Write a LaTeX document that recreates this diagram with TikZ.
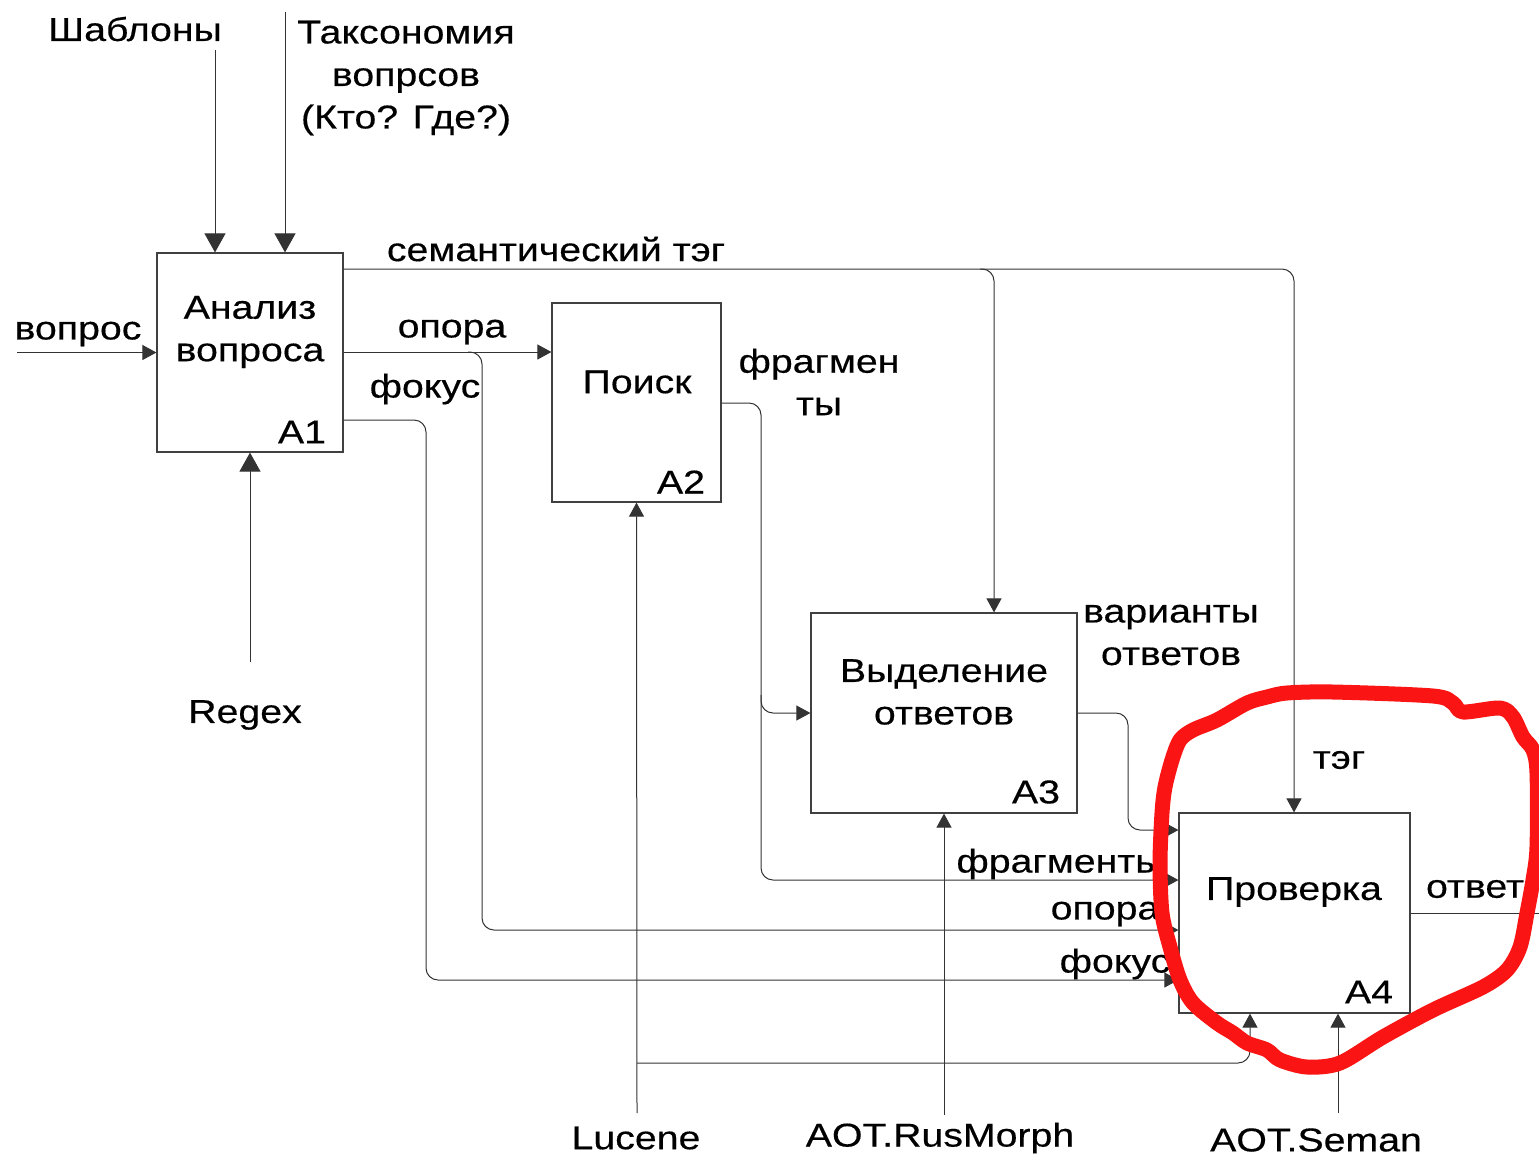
\documentclass[tikz,border=0pt]{standalone}
\usepackage{fontspec}
\setmainfont{Liberation Sans}[FakeStretch=1.19,FakeBold=0.4]
\usetikzlibrary{arrows.meta}
\definecolor{redmark}{RGB}{250,20,20}
\begin{document}
\begin{tikzpicture}[x=1pt,y=-1pt,
  txt/.style={inner sep=0pt, align=center, yshift=-2pt, font=\fontsize{33}{42.5}\selectfont},
  box/.style={draw=black!75, line width=1.2pt, inner sep=0pt, fill=white},
  conn/.style={draw=black!80, line width=1pt, rounded corners=12pt},
  arr/.style={-{Triangle[length=14pt,width=15pt]}},
  bigarr/.style={-{Triangle[length=19pt,width=21pt]}},
  loopmark/.style={draw=redmark, line width=15pt, line join=round, line cap=round}]
\useasboundingbox (0,0) rectangle (1539,1157);

% boxes
\node[box, minimum width=186pt, minimum height=199pt] (A1) at (250,352.5) {};
\node[box, minimum width=169pt, minimum height=199pt] (A2) at (636.5,402.5) {};
\node[box, minimum width=266pt, minimum height=200pt] (A3) at (944,713) {};
\node[box, minimum width=231pt, minimum height=200pt] (A4) at (1294.5,913) {};

% box texts
\node[txt] (A1t) at (250,330) {Анализ\\вопроса};
\node[txt] (A1n) at (302,430) {A1};
\node[txt] (A2t) at (637,380) {Поиск};
\node[txt] (A2n) at (681,480) {A2};
\node[txt] (A3t) at (944,690) {Выделение\\ответов};
\node[txt] (A3n) at (1036,790) {A3};
\node[txt] (A4t) at (1294,890) {Проверка};
\node[txt] (A4n) at (1369,990) {A4};

% free ends
\coordinate (sh) at (215,50);
\coordinate (tx) at (285,12);
\coordinate (vq) at (17,352.5);
\coordinate (rg) at (250,662);
\coordinate (lu) at (637,1113);
\coordinate (rm) at (944,1115);
\coordinate (se) at (1338,1113);
\coordinate (ot) at (1539,913);

% connectors
\draw[conn, bigarr] (sh) -- (215,0 |- A1.north);
\draw[conn, bigarr] (tx) -- (285,0 |- A1.north);
\draw[conn, arr] (vq) -- (A1.west);
\draw[conn, bigarr] (rg) -- (A1.south);
\draw[conn, arr] (A1.east |- 0,269) -- (1294,269) -- (1294,0 |- A4.north);
\draw[conn, arr] (980,269) -- (994,269) -- (994,0 |- A3.north);
\draw[conn, arr] (A1.east |- 0,352) -- (A2.west |- 0,352);
\draw[conn, arr] (468,352) -- (482,352) -- (482,930) -- (A4.west |- 0,930);
\draw[conn, arr] (A1.east |- 0,420) -- (426,420) -- (426,980) -- (A4.west |- 0,980);
\draw[conn, arr] (A2.east |- 0,403) -- (761,403) -- (761,880) -- (A4.west |- 0,880);
\draw[conn, arr] (761,695) -- (761,713) -- (A3.west);
\draw[conn, arr] (A3.east) -- (1128,713) -- (1128,830) -- (A4.west |- 0,830);
\draw[conn] (A4.east) -- (ot);
\draw[conn, arr] (lu) -- (A2.south);
\draw[conn, arr] (637,1063) -- (1250,1063) -- (1250,0 |- A4.south);
\draw[conn, arr] (rm) -- (A3.south);
\draw[conn, arr] (se) -- (1338,0 |- A4.south);

% labels
\node[txt] (lsh) at (135,27) {Шаблоны};
\node[txt] (ltx) at (406,76) {Таксономия\\вопрсов\\(Кто? Где?)};
\node[txt] (lvq) at (78,332) {вопрос};
\node[txt] (lrg) at (245,713) {Regex};
\node[txt] (lst) at (556,247) {семантический тэг};
\node[txt] (lop) at (452,330) {опора};
\node[txt] (lfo) at (425,387) {фокус};
\node[txt] (lfr) at (819,380) {фрагмен\\ты};
\node[txt] (lva) at (1171,633) {варианты\\ответов};
\node[txt] (ltg) at (1339,758) {тэг};
\node[txt] (lfr2) at (1060,862) {фрагменты};
\node[txt] (lop2) at (1105,912) {опора};
\node[txt] (lfo2) at (1115,962) {фокус};
\node[txt] (lot) at (1475,887) {ответ};
\node[txt] (llu) at (636,1136) {Lucene};
\node[txt] (lrm) at (940,1136) {AOT.RusMorph};
\node[txt] (lse) at (1316,1138) {AOT.Seman};

% red hand-drawn loop
\draw[loopmark] plot[smooth cycle, tension=0.5] coordinates {
 (1287,693) (1333,692) (1433,696) (1453,703) (1463,712) (1500,708)
 (1513,717) (1523,737) (1533,750) (1537,773) (1537,847) (1533,880)
 (1527,913) (1520,947) (1507,970) (1483,987) (1433,1010) (1383,1037)
 (1340,1063) (1307,1067) (1280,1060) (1267,1050) (1247,1043) (1233,1033)
 (1217,1023) (1193,1003) (1180,980) (1170,947) (1162,913) (1160,863)
 (1162,813) (1165,787) (1172,760) (1180,740) (1193,730) (1217,720)
 (1247,703) (1267,697)};
\end{tikzpicture}
\end{document}
